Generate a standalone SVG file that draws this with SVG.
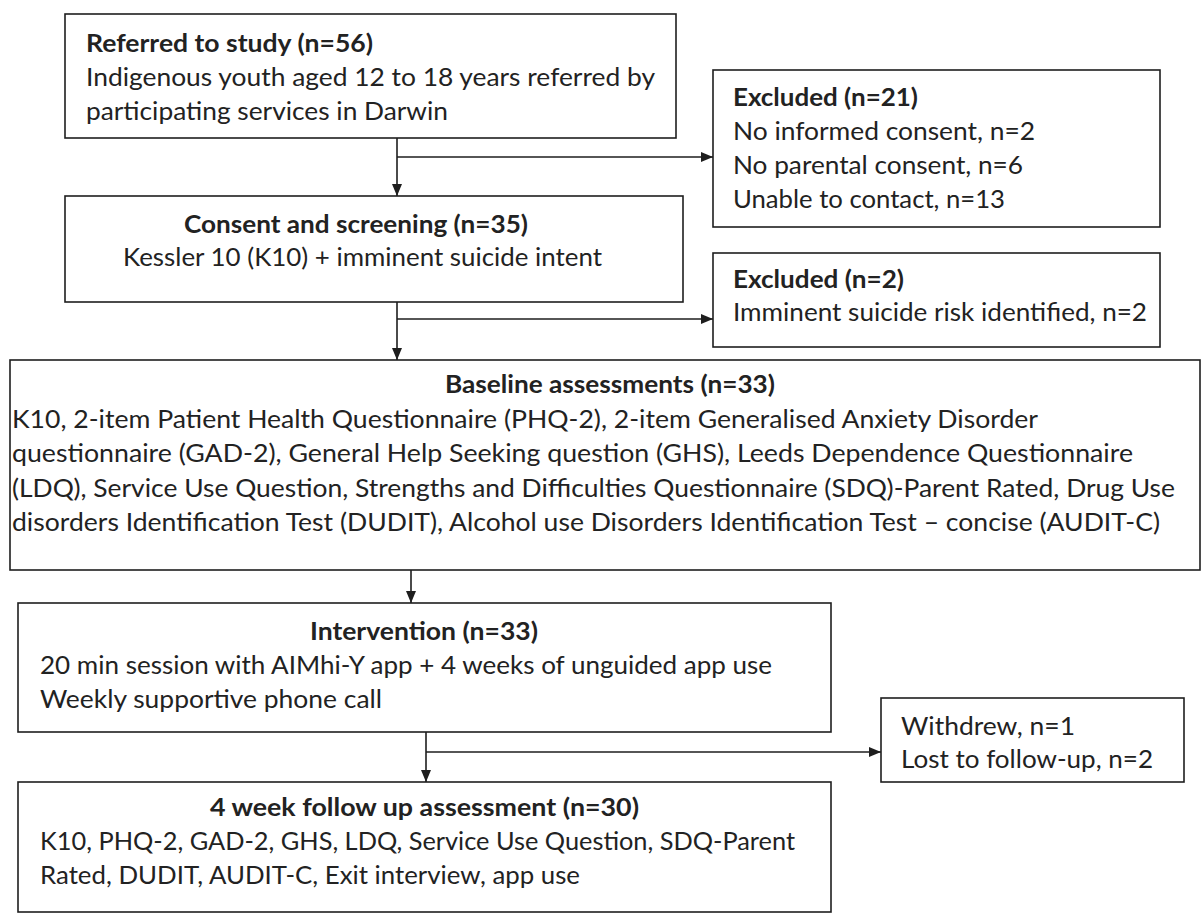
<svg xmlns="http://www.w3.org/2000/svg" width="1202" height="919" viewBox="0 0 1202 919">
<style>
.box{fill:#fff;stroke:#1e1e1e;stroke-width:1.6}
text{font-family:Lato,"Liberation Sans",sans-serif;font-size:25px;fill:#222}
.b{font-weight:bold}
.c{fill:none;stroke:#1e1e1e;stroke-width:1.6}
</style>
<defs>
<marker id="ah" markerUnits="userSpaceOnUse" markerWidth="12" markerHeight="12" viewBox="0 0 12 12" refX="12" refY="6" orient="auto">
<path d="M0,1 L12,6 L0,11 Z" fill="#1e1e1e"/>
</marker>
</defs>
<rect width="1202" height="919" fill="#fff"/>
<g id="connectors">
<path class="c" d="M397,138 V196" marker-end="url(#ah)"/>
<path class="c" d="M397,157 H713" marker-end="url(#ah)"/>
<path class="c" d="M397,302 V360" marker-end="url(#ah)"/>
<path class="c" d="M397,319 H713" marker-end="url(#ah)"/>
<path class="c" d="M411,570 V603" marker-end="url(#ah)"/>
<path class="c" d="M426,732 V782" marker-end="url(#ah)"/>
<path class="c" d="M426,752 H881" marker-end="url(#ah)"/>
</g>
<g id="referred">
<rect class="box" x="65" y="14" width="611" height="124"/>
<text class="b" x="86" y="52" textLength="287" lengthAdjust="spacingAndGlyphs">Referred to study (n=56)</text>
<text x="86" y="86" textLength="569" lengthAdjust="spacingAndGlyphs">Indigenous youth aged 12 to 18 years referred by</text>
<text x="86" y="120" textLength="362" lengthAdjust="spacingAndGlyphs">participating services in Darwin</text>
</g>
<g id="excluded1">
<rect class="box" x="713" y="70" width="447" height="157"/>
<text class="b" x="733" y="106" textLength="185" lengthAdjust="spacingAndGlyphs">Excluded (n=21)</text>
<text x="733" y="140" textLength="302" lengthAdjust="spacingAndGlyphs">No informed consent, n=2</text>
<text x="733" y="174" textLength="290" lengthAdjust="spacingAndGlyphs">No parental consent, n=6</text>
<text x="733" y="208" textLength="272" lengthAdjust="spacingAndGlyphs">Unable to contact, n=13</text>
</g>
<g id="consent">
<rect class="box" x="65" y="196" width="618" height="106"/>
<text class="b" x="184" y="233" textLength="344" lengthAdjust="spacingAndGlyphs">Consent and screening (n=35)</text>
<text x="123" y="266" textLength="479" lengthAdjust="spacingAndGlyphs">Kessler 10 (K10) + imminent suicide intent</text>
</g>
<g id="excluded2">
<rect class="box" x="713" y="253" width="447" height="94"/>
<text class="b" x="733" y="288" textLength="171" lengthAdjust="spacingAndGlyphs">Excluded (n=2)</text>
<text x="733" y="321" textLength="414" lengthAdjust="spacingAndGlyphs">Imminent suicide risk identified, n=2</text>
</g>
<g id="baseline">
<rect class="box" x="10" y="360" width="1190" height="210"/>
<text class="b" x="445" y="393" textLength="330" lengthAdjust="spacingAndGlyphs">Baseline assessments (n=33)</text>
<text x="12" y="428" textLength="1026" lengthAdjust="spacingAndGlyphs">K10, 2-item Patient Health Questionnaire (PHQ-2), 2-item Generalised Anxiety Disorder</text>
<text x="12" y="462" textLength="1121" lengthAdjust="spacingAndGlyphs">questionnaire (GAD-2), General Help Seeking question (GHS), Leeds Dependence Questionnaire</text>
<text x="12" y="497" textLength="1163" lengthAdjust="spacingAndGlyphs">(LDQ), Service Use Question, Strengths and Difficulties Questionnaire (SDQ)-Parent Rated, Drug Use</text>
<text x="12" y="531" textLength="1148" lengthAdjust="spacingAndGlyphs">disorders Identification Test (DUDIT), Alcohol use Disorders Identification Test – concise (AUDIT-C)</text>
</g>
<g id="intervention">
<rect class="box" x="18" y="603" width="813" height="129"/>
<text class="b" x="310" y="640" textLength="228" lengthAdjust="spacingAndGlyphs">Intervention (n=33)</text>
<text x="40" y="674" textLength="732" lengthAdjust="spacingAndGlyphs">20 min session with AIMhi-Y app + 4 weeks of unguided app use</text>
<text x="40" y="708" textLength="342" lengthAdjust="spacingAndGlyphs">Weekly supportive phone call</text>
</g>
<g id="withdrew">
<rect class="box" x="881" y="698" width="303" height="84"/>
<text x="901" y="735" textLength="174" lengthAdjust="spacingAndGlyphs">Withdrew, n=1</text>
<text x="901" y="768" textLength="252" lengthAdjust="spacingAndGlyphs">Lost to follow-up, n=2</text>
</g>
<g id="followup">
<rect class="box" x="18" y="782" width="813" height="130"/>
<text class="b" x="210" y="816" textLength="429" lengthAdjust="spacingAndGlyphs">4 week follow up assessment (n=30)</text>
<text x="40" y="850" textLength="755" lengthAdjust="spacingAndGlyphs">K10, PHQ-2, GAD-2, GHS, LDQ, Service Use Question, SDQ-Parent</text>
<text x="40" y="884" textLength="540" lengthAdjust="spacingAndGlyphs">Rated, DUDIT, AUDIT-C, Exit interview, app use</text>
</g>
</svg>
